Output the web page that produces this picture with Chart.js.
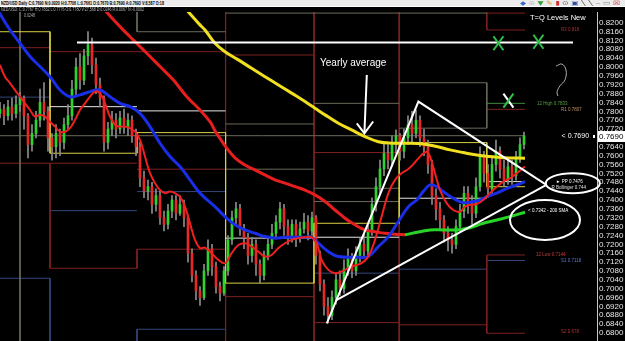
<!DOCTYPE html>
<html>
<head>
<meta charset="utf-8">
<title>NZD/USD Daily</title>
<script src="https://cdn.jsdelivr.net/npm/chart.js@4.4.1/dist/chart.umd.min.js"></script>
<style>
  html, body { margin: 0; padding: 0; background: #000; }
  #wrap { position: relative; width: 625px; height: 341px; overflow: hidden; background: #000; }
  #chart { position: absolute; left: 0; top: 0; }
  .bar1 { position: absolute; left: 0; top: 0; width: 625px; height: 6px; background: #ececec; border-bottom: 1px solid #fff; }
  .txt { position: absolute; white-space: nowrap; font-family: 'Liberation Sans', Arial, sans-serif;
         font-size: 8px; line-height: 8px; transform-origin: 0 0; }
  #h1 { left: 1px; top: 0; font-weight: bold; color: #000; }
  #h2 { left: 1px; top: 7px; color: #b8b8b8; }
  #h3 { left: 24px; top: 13px; color: #b0b0b0; }
  #icons { left: 520px; top: 0; font-family: 'DejaVu Sans', sans-serif; }
</style>
</head>
<body>
<div id="wrap">
  <canvas id="chart" width="625" height="341"></canvas>
  <div class="bar1"></div>
  <div class="txt" id="h1">NZD/USD Daily C:0.7690 N:0.0020 H:0.7706 L:0.7661 O:0.7670 B:0.7690 A:0.7693 V:8,587 O:18</div>
  <div class="txt" id="h2">NZD/USD: C:0.7767 H:0.7832 L:0.7776 O:0.7780 V:27,568 D:0.0246 R:0.0067 N:-0.0002</div>
  <div class="txt" id="h3">0.0248</div>
  <div class="txt" id="icons"><span style="color:#3a6ad0">◆</span> <span style="color:#c0c0c0">⊕</span> <span style="color:#30a030">▼</span> <span style="color:#d0a020">✎</span> <span style="color:#d03030">▮</span> <span style="color:#606060">⊙</span> <span style="color:#3050a0">▣</span> <span style="color:#404040">╲</span> <span style="color:#404040">╲</span> <span style="color:#808080">‒</span> <span style="color:#808080">▭</span> <span style="color:#d02020">☒</span></div>
</div>
<script>
// ---- axis ranges ----
var xMax = 149.25;
var yMin = 0.6764, yMax = 0.8248;
var tickValues = [0.8200, 0.8160, 0.8120, 0.8080, 0.8040, 0.8000, 0.7960, 0.7920, 0.7880, 0.7840,
    0.7800, 0.7760, 0.7720, 0.7680, 0.7640, 0.7600, 0.7560, 0.7520, 0.7480, 0.7440,
    0.7400, 0.7360, 0.7320, 0.7280, 0.7240, 0.7200, 0.7160, 0.7120, 0.7080, 0.7040,
    0.7000, 0.6960, 0.6920, 0.6880, 0.6840, 0.6800];

// ---- price bars (one bar = two sessions) ----
var opens = [.7790,.7810,.7780,.7820,.7790,.7830,.7860,.7780,.7650,.7700,
    .7760,.7840,.7800,.7680,.7640,.7700,.7660,.7740,.7780,.7900,
    .8000,.7940,.8050,.8100,.8010,.7920,.7860,.7660,.7720,.7760,
    .7720,.7770,.7730,.7760,.7690,.7640,.7500,.7440,.7460,.7380,
    .7420,.7320,.7290,.7350,.7400,.7340,.7380,.7320,.7160,.7060,
    .6990,.6960,.7080,.7180,.7100,.7010,.6980,.7080,.7220,.7320,
    .7360,.7270,.7230,.7150,.7200,.7110,.7060,.7150,.7200,.7250,
    .7300,.7360,.7280,.7240,.7290,.7230,.7270,.7300,.7260,.7320,
    .7150,.7020,.6920,.6880,.6960,.7040,.7000,.7090,.7140,.7080,
    .7150,.7200,.7170,.7260,.7380,.7460,.7540,.7610,.7580,.7650,
    .7690,.7620,.7680,.7740,.7700,.7760,.7680,.7640,.7560,.7420,
    .7360,.7310,.7250,.7220,.7200,.7280,.7350,.7430,.7380,.7340,
    .7460,.7600,.7520,.7450,.7560,.7620,.7540,.7490,.7550,.7510,
    .7590,.7650];
var closes = [.7810,.7780,.7820,.7790,.7830,.7860,.7780,.7650,.7700,.7760,
    .7840,.7800,.7680,.7640,.7700,.7660,.7740,.7780,.7900,.8000,
    .7940,.8050,.8100,.8010,.7920,.7860,.7660,.7720,.7760,.7720,
    .7770,.7730,.7760,.7690,.7640,.7500,.7440,.7460,.7380,.7420,
    .7320,.7290,.7350,.7400,.7340,.7380,.7320,.7160,.7060,.6990,
    .6960,.7080,.7180,.7100,.7010,.6980,.7080,.7220,.7320,.7360,
    .7270,.7230,.7150,.7200,.7110,.7060,.7150,.7200,.7250,.7300,
    .7360,.7280,.7240,.7290,.7230,.7270,.7300,.7260,.7320,.7150,
    .7020,.6920,.6880,.6960,.7040,.7000,.7090,.7140,.7080,.7150,
    .7200,.7170,.7260,.7380,.7460,.7540,.7610,.7580,.7650,.7690,
    .7620,.7680,.7740,.7700,.7760,.7680,.7640,.7560,.7420,.7360,
    .7310,.7250,.7220,.7200,.7280,.7350,.7430,.7380,.7340,.7460,
    .7600,.7520,.7450,.7560,.7620,.7540,.7490,.7550,.7510,.7590,
    .7650,.7690];
var highs = [.7840,.7830,.7850,.7860,.7870,.7885,.7870,.7790,.7740,.7800,
    .7900,.7930,.7820,.7700,.7740,.7720,.7770,.7830,.7940,.8040,
    .8060,.8080,.8160,.8130,.8040,.7950,.7870,.7750,.7800,.7790,
    .7800,.7810,.7790,.7780,.7720,.7660,.7530,.7490,.7480,.7450,
    .7440,.7350,.7380,.7420,.7420,.7420,.7400,.7330,.7180,.7080,
    .7010,.7110,.7220,.7200,.7120,.7030,.7100,.7240,.7350,.7390,
    .7380,.7290,.7250,.7230,.7220,.7130,.7170,.7230,.7290,.7330,
    .7390,.7380,.7310,.7310,.7310,.7300,.7340,.7330,.7345,.7330,
    .7170,.7040,.6960,.6990,.7070,.7080,.7130,.7180,.7160,.7190,
    .7230,.7250,.7290,.7410,.7500,.7580,.7660,.7650,.7690,.7716,
    .7700,.7720,.7780,.7800,.7806,.7780,.7720,.7670,.7580,.7450,
    .7390,.7330,.7280,.7250,.7310,.7380,.7460,.7460,.7420,.7500,
    .7640,.7620,.7560,.7600,.7670,.7640,.7580,.7590,.7580,.7620,
    .7680,.7706];
var lows = [.7770,.7740,.7760,.7760,.7770,.7800,.7720,.7590,.7620,.7680,
    .7730,.7760,.7620,.7580,.7590,.7600,.7630,.7720,.7760,.7870,
    .7900,.7920,.8010,.7970,.7880,.7820,.7620,.7630,.7690,.7680,
    .7700,.7700,.7690,.7660,.7600,.7460,.7410,.7400,.7340,.7350,
    .7290,.7260,.7270,.7320,.7310,.7330,.7280,.7120,.7030,.6950,
    .6925,.6950,.7060,.7060,.6980,.6945,.6970,.7060,.7200,.7290,
    .7240,.7180,.7110,.7120,.7060,.7025,.7040,.7130,.7180,.7230,
    .7270,.7240,.7200,.7210,.7190,.7210,.7250,.7220,.7240,.7110,
    .6990,.6880,.6844,.6860,.6930,.6970,.6980,.7060,.7050,.7060,
    .7120,.7140,.7150,.7240,.7350,.7430,.7510,.7540,.7550,.7610,
    .7580,.7590,.7650,.7660,.7680,.7640,.7600,.7520,.7380,.7310,
    .7270,.7210,.7170,.7160,.7180,.7260,.7320,.7340,.7290,.7320,
    .7440,.7480,.7410,.7430,.7530,.7500,.7460,.7470,.7470,.7490,
    .7570,.7630];

// ---- moving averages: [bar position, price] ----
var ma50 = [[-0.5,.8255],[2.5,.8167],[5,.8107],[7.5,.8047],[10,.8002],[12.5,.7956],[15,.7896],[17.5,.7866],
    [20,.7874],[22.5,.7889],[25,.7896],[27.5,.7866],[30,.7836],[32.5,.7821],[35,.7791],[37.5,.7731],
    [40,.7656],[42.5,.7596],[45,.7551],[47.5,.7491],[50,.7431],[53.75,.7370],[56.25,.7325],[58.75,.7288],
    [61.25,.7265],[63.75,.7250],[66.25,.7235],[68.75,.7228],[71.25,.7232],[76.25,.7232],[77.9,.7232],
    [79.6,.7205],[82.1,.7167],[84.6,.7145],[89.6,.7142],[92.1,.7145],[94.6,.7190],[97.1,.7235],
    [99.6,.7303],[102.1,.7370],[104.2,.7400],[105.8,.7438],[107.5,.7468],[109.2,.7460],[110.8,.7438],
    [113.3,.7408],[115.8,.7388],[118.3,.7393],[120,.7400],[121.7,.7415],[124.2,.7431],[126.7,.7452],
    [129.2,.7468],[131.25,.7483]];
var maFast = [[0,.8009],[1.25,.7956],[2.5,.7927],[3.75,.7896],[5,.7866],[6.25,.7836],[7.5,.7806],
    [8.75,.7776],[10,.7784],[11.25,.7776],[12.5,.7753],[13.75,.7731],[15,.7708],[16.25,.7708],
    [17.5,.7724],[18.75,.7761],[20,.7806],[21.25,.7836],[22.5,.7866],[23.75,.7889],[25,.7881],
    [26.25,.7836],[27.5,.7776],[28.75,.7739],[30,.7731],[31.25,.7731],[32.5,.7724],[33.75,.7708],
    [35,.7671],[36.25,.7596],[37.5,.7521],[38.75,.7476],[40,.7445],[41.25,.7431],[42.5,.7438],
    [43.75,.7431],[45,.7415],[46.25,.7370],[47.5,.7295],[48.75,.7220],[50,.7183],[51.25,.7185],
    [52.9,.7160],[54.6,.7130],[56.25,.7115],[57.9,.7160],[59.6,.7197],[61.25,.7205],[62.9,.7190],
    [64.6,.7167],[66.25,.7145],[67.9,.7152],[69.6,.7183],[71.25,.7205],[72.9,.7220],[74.6,.7228],
    [76.25,.7232],[77.9,.7232],[79.2,.7205],[80.4,.7130],[82.1,.7085],[83.75,.7070],[85.4,.7077],
    [87.9,.7100],[90.4,.7115],[92.1,.7145],[93.75,.7220],[95.4,.7325],[97.1,.7431],[98.75,.7491],
    [100.4,.7521],[102.1,.7540],[103.75,.7570],[105.4,.7603],[106.7,.7618],[107.5,.7596],
    [108.75,.7521],[110,.7445],[111.7,.7385],[113.3,.7355],[115,.7347],[116.25,.7370],[117.5,.7378],
    [119.2,.7382],[120.8,.7400],[122.5,.7431],[124.2,.7460],[125.8,.7483],[127.5,.7498],
    [129.2,.7521],[131.25,.7551]];
var maSlow = [[26,.8260],[30,.8182],[33.3,.8122],[36.7,.8062],[40,.8002],[43.3,.7942],[46.7,.7866],
    [50,.7806],[52.5,.7753],[54,.7705],[56.4,.7641],[58.75,.7590],[61.25,.7558],[63.75,.7536],
    [66.25,.7513],[68.75,.7491],[71.25,.7476],[73.75,.7460],[76.25,.7445],[78.75,.7423],
    [81.25,.7393],[83.75,.7355],[86.25,.7318],[88.75,.7288],[91.25,.7265],[93.75,.7257],
    [96.25,.7250],[98.75,.7246],[101.25,.7243]];
var sma200 = [[101.25,.7243],[105,.7257],[107.5,.7265],[110.8,.7265],[114.2,.7265],[117.5,.7275],
    [120.8,.7295],[124.2,.7310],[127.5,.7325],[131.25,.7345]];
var maYear = [[46.5,.8260],[48.5,.8220],[50,.8190],[51.25,.8167],[53.75,.8107],[56.25,.8069],
    [59.6,.8032],[62.9,.7994],[66.25,.7956],[69.6,.7919],[72.9,.7882],[76.25,.7844],[78.75,.7814],
    [81.25,.7784],[84.6,.7746],[87.9,.7716],[91.25,.7686],[94.6,.7663],[97.9,.7656],[101.25,.7656],
    [105.8,.7653],[109.2,.7641],[112.5,.7626],[115.8,.7614],[119.2,.7603],[122.5,.7596],
    [125.8,.7591],[131.25,.7588]];

// ---- pivot levels: horizontal [from, to, price], vertical [at, price1, price2] ----
var yellowH = [[0,12.5,.8159],[12.5,34.25,.7611],[34.25,56.4,.7704],[56.4,78.5,.7025],
    [78.5,99.8,.7295],[99.8,121.7,.7659],[121.7,131.25,.7460]];
var yellowV = [[12.5,.8159,.7611],[34.25,.7704,.7611],[56.4,.7704,.7025],[78.5,.7295,.7025],
    [99.8,.7659,.7295],[121.7,.7659,.7460]];
var whiteH = [[12.5,34.25,.7821],[34.25,56.4,.7802],[56.4,78.5,.7228],[78.5,99.8,.7232],
    [99.8,121.7,.7408],[121.7,131.25,.7483]];
var redH = [[0,12.5,.8087],[12.5,56.4,.8069],[56.4,78.5,.8054],[0,34.25,.7566],[34.25,56.4,.7539],
    [12.5,34.25,.7092],[34.25,56.4,.7178],[56.4,78.5,.6964],[78.5,99.8,.7614],[78.5,99.8,.6847],
    [99.8,121.7,.6837],[121.7,131.25,.8243],[121.7,131.25,.8167],[121.7,131.25,.7809],
    [121.7,131.25,.7152],[121.7,131.25,.6799]];
var redV = [[12.5,.7566,.7092],[34.25,.7178,.7092],[56.4,.8248,.7704],[56.4,.7025,.6764],
    [78.5,.8248,.7295],[78.5,.7025,.6764],[99.8,.8248,.7659],[99.8,.7295,.6764],
    [121.7,.8248,.8167],[121.7,.7152,.6799]];
var grayH = [[34.25,56.4,.8159],[56.4,121.7,.8243],[56.4,78.5,.7743],[56.4,78.5,.7539],
    [78.5,99.8,.7836],[78.5,99.8,.7453],[78.5,99.8,.7393],[99.8,121.7,.7929],[99.8,121.7,.7724],
    [0,131.25,.7690]];
var grayV = [[5,.8248,.6764],[34.25,.8248,.8159],[121.7,.7929,.7724]];
var blueH = [[0,12.5,.7864],[12.5,34.25,.7352],[34.25,56.4,.7438],[0,12.5,.7047],[34.25,56.4,.6817],
    [78.5,99.8,.7070],[99.8,121.7,.7088],[121.7,131.25,.7127]];
var blueV = [[12.5,.7047,.6764],[34.25,.6817,.6764]];
var greenH = [[121.7,131.25,.7836]];

// ---- hand drawn marks ----
var trendLine = [[19.25,.8110],[143.25,.8110]];
var triangle = [[81.7,.6844],[104.6,.7844],[136.6,.7468]];
var triangleBase = [[84.2,.6949],[136.6,.7468]];
var arrowShaft = [[91.7,.7964],[91.1,.7701]];
var arrowHead = [[89.2,.7746],[91.1,.7701],[93.3,.7754]];
var question = [[139,.8004],[140.5,.8013],[141.5,.7986],[141.25,.7942],[140,.7915],[139.25,.7887],[139.5,.7869]];
var ellipses = [[143.2,.7476,27,10],[136.25,.7310,35,20]];
var crosses = [[124.6,.8107,'#2fc24a','#2fc24a'],[134.6,.8114,'#2fc24a','#2fc24a'],[127.1,.7848,'#ffffff','#2fc24a']];
var notes = [
    ['Yearly average', 80, .8016, '#ffffff', '10px "Liberation Sans"'],
    ['T=Q Levels New', 132.5, .8221, '#ffffff', '7.5px "Liberation Sans"'],
    ['R2 0.818', 140.25, .8167, '#a83232', '4.5px "Liberation Sans"'],
    ['12 High 0.7833', 134.25, .7836, '#5aa040', '4.5px "Liberation Sans"'],
    ['R1 0.7807', 140.25, .7809, '#c09060', '4.5px "Liberation Sans"'],
    ['< 0.7690', 140.4, .7690, '#ffffff', '7px "Liberation Sans"'],
    ['\u25BA PP 0.7476', 139, .7481, '#ffffff', '4.5px "Liberation Sans"'],
    ['R Bollinger 0.744', 137.9, .7455, '#e0e0e0', '4.5px "Liberation Sans"'],
    ['< 0.7342 - 200 SMA', 132, .7351, '#ffffff', '4.5px "Liberation Sans"'],
    ['12 Low 0.7144', 134, .7152, '#c83a3a', '4.5px "Liberation Sans"'],
    ['S1 0.7118', 140.25, .7127, '#5a78c8', '4.5px "Liberation Sans"'],
    ['S2 0.678', 140.25, .6805, '#b83232', '4.5px "Liberation Sans"']
];

function pts(arr) {
    return arr.map(function (p) { return { x: p[0], y: p[1] }; });
}

function segs(h, v) {
    var out = [];
    h.forEach(function (s) { out.push({ x: s[0], y: s[2] }, { x: s[1], y: s[2] }, { x: s[1], y: null }); });
    (v || []).forEach(function (s) { out.push({ x: s[0], y: s[1] }, { x: s[0], y: s[2] }, { x: s[0], y: null }); });
    return out;
}

function lineSet(data, color, width, order, tension) {
    return {
        type: 'line', data: data, borderColor: color, borderWidth: width,
        pointRadius: 0, tension: tension || 0, order: order, spanGaps: false, fill: false
    };
}

var bid = closes[closes.length - 1];
var wickData = closes.map(function (c, i) { return { x: i, y: [lows[i], highs[i]] }; });
var bodyData = closes.map(function (c, i) { return { x: i, y: [opens[i], c] }; });
var bodyColors = closes.map(function (c, i) { return c >= opens[i] ? '#2ed42e' : '#e62828'; });

// background, ellipses, crosses, labels and the bid tag on the price axis
var overlay = {
    id: 'overlay',
    beforeDraw: function (chart) {
        var ctx = chart.ctx;
        ctx.save();
        ctx.fillStyle = '#000';
        ctx.fillRect(0, 0, chart.width, chart.height);
        ctx.restore();
    },
    afterDatasetsDraw: function (chart) {
        var ctx = chart.ctx, sx = chart.scales.x, sy = chart.scales.y;
        ctx.save();
        ctx.strokeStyle = '#ffffff';
        ctx.lineWidth = 2;
        ellipses.forEach(function (e) {
            ctx.beginPath();
            ctx.ellipse(sx.getPixelForValue(e[0]), sy.getPixelForValue(e[1]), e[2], e[3], 0, 0, Math.PI * 2);
            ctx.stroke();
        });
        crosses.forEach(function (c) {
            var cx = sx.getPixelForValue(c[0]), cy = sy.getPixelForValue(c[1]);
            ctx.strokeStyle = c[2];
            ctx.beginPath(); ctx.moveTo(cx - 5, cy - 7); ctx.lineTo(cx + 5, cy + 7); ctx.stroke();
            ctx.strokeStyle = c[3];
            ctx.beginPath(); ctx.moveTo(cx + 5, cy - 7); ctx.lineTo(cx - 5, cy + 7); ctx.stroke();
        });
        ctx.textBaseline = 'middle';
        ctx.textAlign = 'left';
        notes.forEach(function (n) {
            ctx.font = n[4];
            ctx.fillStyle = n[3];
            ctx.fillText(n[0], sx.getPixelForValue(n[1]), sy.getPixelForValue(n[2]));
        });
        ctx.restore();
    },
    afterDraw: function (chart) {
        var ctx = chart.ctx, area = chart.chartArea;
        var yy = Math.round(chart.scales.y.getPixelForValue(bid));
        ctx.save();
        ctx.fillStyle = '#ffffff';
        ctx.fillRect(area.right - 4, yy - 1, 2, 3);
        ctx.fillRect(area.right + 1, yy - 5, 27, 11);
        ctx.fillStyle = '#000000';
        ctx.font = '8px "Liberation Sans"';
        ctx.textBaseline = 'middle';
        ctx.fillText(bid.toFixed(4), area.right + 2, yy + 0.5);
        ctx.restore();
    }
};

new Chart(document.getElementById('chart').getContext('2d'), {
    type: 'bar',
    data: {
        datasets: [
            lineSet(pts(trendLine), '#ffffff', 2, 1),
            lineSet(pts(triangle), '#ffffff', 2, 1),
            lineSet(pts(triangleBase), '#ffffff', 2, 1),
            lineSet(pts(arrowShaft), '#ffffff', 2, 1),
            lineSet(pts(arrowHead), '#ffffff', 2, 1),
            lineSet(pts(question), '#b0b0b0', 1, 1, 0.4),
            lineSet(pts(maFast), '#ee2020', 2, 2, 0.4),
            lineSet(pts(ma50), '#1a2ee8', 3, 3, 0.4),
            lineSet(pts(sma200), '#28d428', 3, 4, 0.4),
            lineSet(pts(maSlow), '#e61e1e', 3, 5, 0.4),
            lineSet(pts(maYear), '#f0e020', 3, 6, 0.4),
            {
                type: 'bar', data: bodyData, backgroundColor: bodyColors, barThickness: 2,
                grouped: false, borderWidth: 0, order: 7
            },
            {
                type: 'bar', data: wickData, backgroundColor: '#8c8c8c', barThickness: 1,
                grouped: false, borderWidth: 0, order: 8
            },
            lineSet(segs(whiteH), '#e6e6e6', 1, 9),
            lineSet(segs(yellowH, yellowV), '#d8d040', 1, 10),
            lineSet(segs(grayH, grayV), '#6a6a5a', 1, 11),
            lineSet(segs(redH, redV), '#7e2020', 1, 12),
            lineSet(segs(blueH, blueV), '#34467a', 1, 13),
            lineSet(segs(greenH), '#3d8a3d', 1, 14)
        ]
    },
    options: {
        responsive: false,
        animation: false,
        events: [],
        layout: { padding: { top: 12, left: 0, right: 0, bottom: 0 } },
        plugins: { legend: { display: false }, tooltip: { enabled: false } },
        scales: {
            x: { type: 'linear', min: 0, max: xMax, display: false, offset: false },
            y: {
                type: 'linear', position: 'right', min: yMin, max: yMax,
                grid: { display: false, drawTicks: false },
                border: { display: true, color: '#c8c8c8', width: 1 },
                ticks: {
                    autoSkip: false, padding: 2, color: '#e6e6e6',
                    font: { family: 'Liberation Sans', size: 8, lineHeight: 1 },
                    callback: function (v) { return Number(v).toFixed(4); }
                },
                afterBuildTicks: function (s) { s.ticks = tickValues.map(function (v) { return { value: v }; }); },
                afterFit: function (s) { s.width = 28; s.paddingTop = 0; s.paddingBottom = 0; }
            }
        }
    },
    plugins: [overlay]
});

// squeeze the tiny header texts to the widths seen on the terminal
function fitText(id, w, h) {
    var el = document.getElementById(id);
    var r = el.getBoundingClientRect();
    el.style.transform = 'scale(' + (w / r.width) + ',' + (h / r.height) + ')';
}
fitText('h1', 163, 6);
fitText('h2', 143, 5);
fitText('h3', 11, 5);
fitText('icons', 100, 6);
</script>
</body>
</html>
